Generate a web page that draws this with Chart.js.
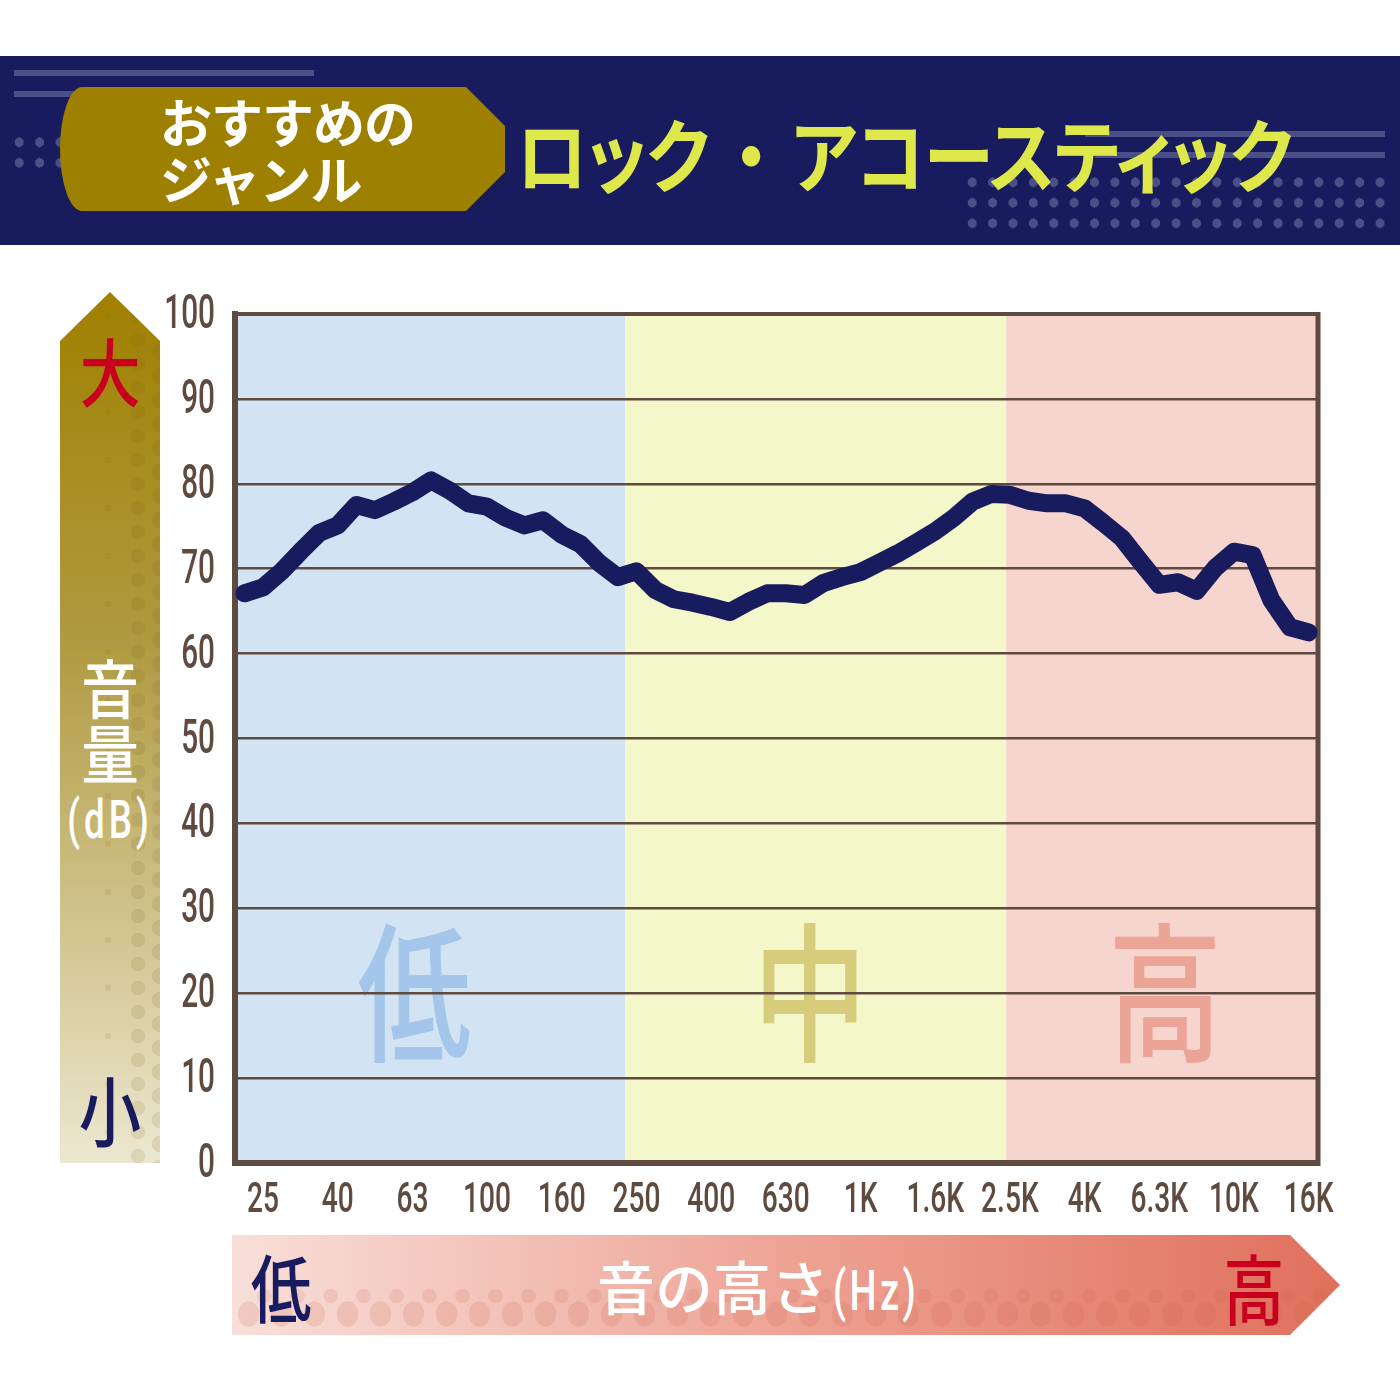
<!DOCTYPE html>
<html><head><meta charset="utf-8">
<script src="https://cdn.jsdelivr.net/npm/chart.js@4.4.1/dist/chart.umd.min.js"></script>
<style>
body{margin:0;width:1400px;height:1400px;position:relative;background:#fff;overflow:hidden;font-family:"Noto Sans CJK JP",sans-serif;}
.abs{position:absolute;}
#header{left:0;top:56px;width:1400px;height:189px;background:#181c5e;}
.line{position:absolute;background:#4a4f88;height:6px;}
.dots{position:absolute;background-image:radial-gradient(ellipse 4.6px 5px at center,#4a4f88 98%,transparent 100%);background-size:20.4px 20.5px;}
#tag{left:60px;top:87px;width:445px;height:124px;background:#9e8000;clip-path:polygon(0 0,406px 0,445px 39px,445px 85px,406px 124px,0 124px);border-radius:22px 0 0 22px/62px 0 0 62px;}
#tagtext{left:160px;top:92px;color:#fff;font-weight:700;font-size:52px;line-height:57px;letter-spacing:-1px;white-space:nowrap;}
#title{left:516px;top:96px;color:#dfe84a;font-weight:700;font-size:80px;line-height:110px;white-space:nowrap;font-feature-settings:"palt";letter-spacing:-1px;transform:scaleX(0.885);transform-origin:left center;}
#varrow{left:60px;top:292px;width:100px;height:871px;background:linear-gradient(to bottom,#a08000 0%,#b09a40 40%,#ece7d0 100%);clip-path:polygon(50px 0,100px 49px,100px 100%,0 100%,0 49px);}
.vdots{position:absolute;top:0;height:871px;}
#harrow{left:232px;top:1235px;width:1108px;height:100px;background:linear-gradient(to right,#f8dfd9 0%,#eea395 50%,#e0705c 100%);clip-path:polygon(0 0,1058px 0,1108px 50px,1058px 100px,0 100px);}
.cj{position:absolute;text-align:center;line-height:1;white-space:nowrap;}
.cond{display:inline-block;font-family:Roboto,sans-serif;}
#chartbox{position:absolute;left:150px;top:290px;width:1200px;height:940px;}
</style></head><body>
<div id="header" class="abs"></div>
<div class="line" style="left:14px;top:70px;width:300px;"></div>
<div class="line" style="left:14px;top:91px;width:60px;"></div>
<div class="dots" style="left:9px;top:132px;width:62px;height:42px;"></div>
<div class="line" style="left:1085px;top:131px;width:300px;"></div>
<div class="line" style="left:1095px;top:152px;width:290px;"></div>
<div class="dots" style="left:962px;top:172px;width:428px;height:62px;"></div>
<div id="tag" class="abs"></div>
<div id="tagtext" class="abs">おすすめの<br>ジャンル</div>
<div id="title" class="abs">ロック<span style="margin:0 26px 0 28px;">・</span>アコースティック</div>

<div id="varrow" class="abs">
  <div class="vdots" style="left:90px;width:20px;background-image:radial-gradient(circle,rgba(110,85,10,0.12) 8px,transparent 8.5px);background-size:20px 24px;"></div>
  <div class="vdots" style="left:66px;width:24px;top:12px;background-image:radial-gradient(circle,rgba(110,85,10,0.12) 7px,transparent 7.5px);background-size:24px 24px;"></div>
  <div class="vdots" style="left:38px;width:20px;background-image:radial-gradient(circle,rgba(110,85,10,0.10) 3px,transparent 3.5px);background-size:20px 48px;"></div>
</div>
<div class="cj" style="left:60px;width:100px;top:332px;font-size:74px;color:#c8001e;font-weight:500;transform:scaleX(0.82);">大</div>
<div class="cj" style="left:60px;width:100px;top:653px;font-size:64px;color:#fff;font-weight:500;transform:scaleX(0.9);">音</div>
<div class="cj" style="left:60px;width:100px;top:718px;font-size:64px;color:#fff;font-weight:500;transform:scaleX(0.9);">量</div>
<div class="cj" style="left:40px;width:140px;top:793px;font-size:54px;color:#fff;font-family:Roboto,sans-serif;font-weight:500;letter-spacing:6px;transform:scaleX(0.68);">(dB)</div>
<div class="cj" style="left:60px;width:100px;top:1070px;font-size:76px;color:#181c5e;font-weight:500;transform:scaleX(0.82);">小</div>

<div id="harrow" class="abs">
  <div style="position:absolute;left:0;top:62px;width:1108px;height:40px;background-image:radial-gradient(ellipse 11px 13px,rgba(200,90,70,0.16) 95%,transparent 100%);background-size:33px 34px;"></div>
  <div style="position:absolute;left:16px;top:46px;width:1108px;height:30px;background-image:radial-gradient(circle,rgba(200,90,70,0.14) 7px,transparent 7.5px);background-size:33px 30px;"></div>
</div>
<div class="cj" style="left:243px;width:76px;top:1248px;font-size:74px;color:#181c5e;font-weight:500;transform:scaleX(0.82);">低</div>
<div class="cj" style="left:597px;top:1256px;font-size:58px;color:#fff;font-weight:500;">音の高さ<span class="cond" style="font-size:56px;letter-spacing:5px;margin-left:4px;transform:scaleX(0.68);transform-origin:left center;">(Hz)</span></div>
<div class="cj" style="left:1216px;width:76px;top:1248px;font-size:76px;color:#c8001e;font-weight:500;transform:scaleX(0.8);">高</div>

<div id="chartbox"><canvas id="c"></canvas></div>
<script>
// 1/6-octave band centre frequencies (categories)
const bandLabels = ['22.4','25','28','31.5','35.5','40','45','50','56','63','71','80','90','100','112','125','140','160','180','200','224','250','280','315','355','400','450','500','560','630','710','800','900','1K','1.12K','1.25K','1.4K','1.6K','1.8K','2K','2.24K','2.5K','2.8K','3.15K','3.55K','4K','4.5K','5K','5.6K','6.3K','7.1K','8K','9K','10K','11.2K','12.5K','14K','16K'];
// Shown tick labels
const tickLabels = ['25','40','63','100','160','250','400','630','1K','1.6K','2.5K','4K','6.3K','10K','16K'];
// Sound level (dB) per band
const soundLevels = [67.1,67.8,69.7,72.0,74.2,75.1,77.5,76.9,77.9,79.0,80.4,79.2,77.7,77.3,76.0,75.1,75.7,74.0,72.9,70.7,69.0,69.7,67.5,66.4,66.0,65.5,64.9,66.1,67.1,67.1,66.9,68.3,69.0,69.6,70.7,71.8,73.1,74.4,76.0,77.9,78.8,78.7,78.0,77.7,77.7,77.1,75.4,73.6,70.8,68.1,68.4,67.4,70.1,72.0,71.6,66.3,63.1,62.5];
// Frequency regions (boundaries in band-index units)
const regionBounds = [-0.5, 20.4, 40.8, 57.5];
const regionColors = ['#d2e3f4','#f4f7c9','#f6d5ce'];
const regionNames = ['低','中','高'];
const regionNameColors = ['#a3c6ea','#d6cc7c','#eca497'];
const regionNameX = [9.1, 30.3, 49.3];
const regionNameY = 20;

const brown = '#5e4a3e';

const bgPlugin = {
  id:'bg',
  beforeDraw(chart){
    const {ctx, chartArea:a, scales:{x,y}} = chart;
    ctx.save();
    for(let i=0;i<regionColors.length;i++){
      const x0 = Math.max(a.left, x.getPixelForValue(regionBounds[i]));
      const x1 = Math.min(a.right, x.getPixelForValue(regionBounds[i+1]));
      ctx.fillStyle = regionColors[i];
      ctx.fillRect(x0, a.top, x1-x0, a.bottom-a.top);
    }
    ctx.textAlign='center'; ctx.textBaseline='middle';
    ctx.font = "500 150px 'Noto Sans CJK JP'";
    for(let i=0;i<regionNames.length;i++){
      ctx.save();
      ctx.translate(x.getPixelForValue(regionNameX[i]), y.getPixelForValue(regionNameY));
      ctx.scale(0.76,1);
      ctx.fillStyle = regionNameColors[i];
      ctx.fillText(regionNames[i], 0, 0);
      ctx.restore();
    }
    ctx.restore();
  },
  beforeDatasetsDraw(chart){
    const {ctx, chartArea:a} = chart;
    ctx.save();
    ctx.strokeStyle = brown;
    ctx.lineWidth = 4;
    ctx.beginPath(); ctx.moveTo(a.left, a.top); ctx.lineTo(a.right+2, a.top); ctx.stroke();
    ctx.lineWidth = 5;
    ctx.beginPath(); ctx.moveTo(a.right, a.top-2); ctx.lineTo(a.right, a.bottom+3); ctx.stroke();
    ctx.restore();
  },
  afterDraw(chart){
    // condensed tick labels, positioned by the chart's own scales
    const {ctx, scales:{x,y}} = chart;
    ctx.save();
    ctx.fillStyle = brown;
    ctx.textBaseline = 'middle';
    ctx.font = "500 48px Roboto";
    ctx.textAlign = 'right';
    y.ticks.forEach((t,i)=>{
      ctx.save();
      ctx.translate(y.right-20, y.getPixelForTick(i)+2);
      ctx.scale(0.62,1);
      ctx.fillText(String(t.label), 0, 0);
      ctx.restore();
    });
    ctx.font = "500 42px Roboto";
    ctx.textAlign = 'center';
    x.ticks.forEach((t,i)=>{
      if(!t.label) return;
      ctx.save();
      ctx.translate(x.getPixelForTick(i), x.top+38);
      ctx.scale(0.67,1);
      ctx.fillText(String(t.label), 0, 0);
      ctx.restore();
    });
    ctx.restore();
  }
};

new Chart(document.getElementById('c'), {
  type:'line',
  data:{ labels: bandLabels, datasets:[{ data: soundLevels, borderColor:'#181c5f', borderWidth:18, pointRadius:0, tension:0, borderCapStyle:'round', borderJoinStyle:'round', fill:false, clip:false }]},
  options:{
    responsive:true, maintainAspectRatio:false, animation:false,
    layout:{padding:{top:24,right:32,left:0,bottom:0}},
    plugins:{legend:{display:false}, tooltip:{enabled:false}},
    scales:{
      x:{ type:'category', offset:true,
          grid:{display:false, drawTicks:false},
          border:{display:true, color:brown, width:6},
          afterFit(s){ s.height = 67; },
          ticks:{ display:false, autoSkip:false,
                  callback(v, i){ const l = bandLabels[i]; return tickLabels.includes(l) ? l : ''; } } },
      y:{ min:0, max:100,
          grid:{color:brown, lineWidth:2.5, drawTicks:false},
          border:{display:true, color:brown, width:6},
          afterFit(s){ s.width = 85; },
          ticks:{ display:false, stepSize:10 } }
    }
  },
  plugins:[bgPlugin]
});
</script>
</body></html>
